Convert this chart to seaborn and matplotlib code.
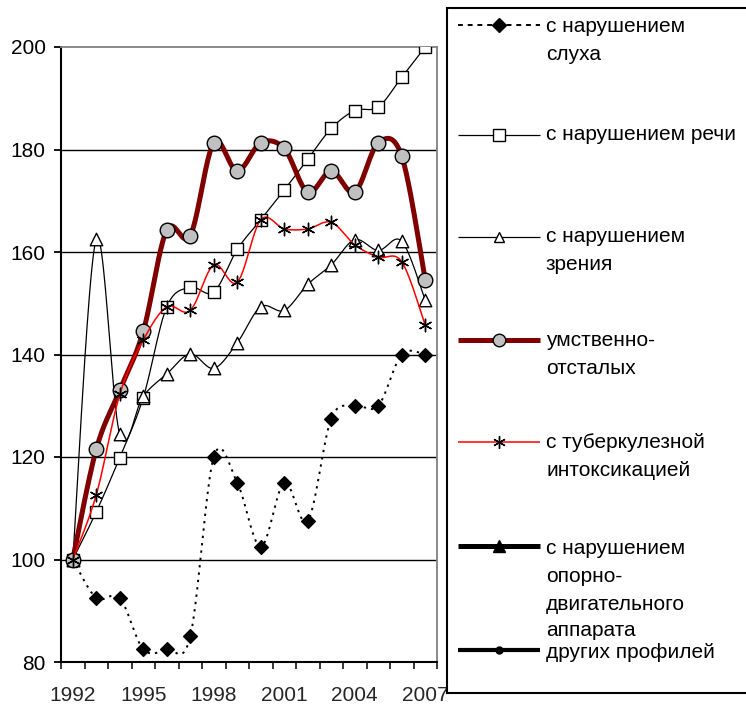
import numpy as np
import pandas as pd
import matplotlib
matplotlib.use('Agg')
import matplotlib.pyplot as plt
import seaborn as sns
from matplotlib.patches import Rectangle

# values (index, 1992 = 100)
years = list(range(1992, 2008))
hearing = [100, 92.5, 92.5, 82.5, 82.5, 85, 120, 115, 102.5, 115, 107.5, 127.5, 130, 130, 140, 140]
speech = [100, 109.3, 119.9, 131.6, 149.3, 153.1, 152.2, 160.5, 166.3, 172.1, 178.1, 184.1, 187.6, 188.3, 194.1, 200]
vision = [100, 162.5, 124.4, 131.9, 136.2, 140.1, 137.3, 142.3, 149.3, 148.6, 153.7, 157.5, 162.4, 160.3, 162.1, 150.6]
mental = [100, 121.5, 133, 144.5, 164.3, 163.2, 181.3, 175.8, 181.3, 180.2, 171.7, 175.8, 171.7, 181.3, 178.7, 154.6]
tuberc = [100, 112.6, 132.2, 142.8, 149.3, 148.6, 157.5, 154.1, 166.3, 164.5, 164.5, 165.8, 161.4, 159, 158.1, 145.7]

year_labels = ['1992', '1995', '1998', '2001', '2004', '2007']
legend_labels = [
    ['с нарушением', 'слуха'],
    ['с нарушением речи'],
    ['с нарушением', 'зрения'],
    ['умственно-', 'отсталых'],
    ['с туберкулезной', 'интоксикацией'],
    ['с нарушением', 'опорно-', 'двигательного', 'аппарата'],
    ['других профилей'],
]

sns.set_style('white')
plt.rcParams['font.family'] = ['Liberation Sans', 'DejaVu Sans']


def smooth(xs, ys, n=24):
    # Excel-like smoothed line: cubic Bezier through the points
    p = np.column_stack([xs, ys]).astype(float)
    ext = np.vstack([p[0], p, p[-1]])
    t = np.linspace(0, 1, n)[:, None]
    parts = []
    for i in range(len(p) - 1):
        p0, p1, p2, p3 = ext[i], ext[i + 1], ext[i + 2], ext[i + 3]
        c1 = p1 + (p2 - p0) / 6
        c2 = p2 - (p3 - p1) / 6
        seg = (1 - t) ** 3 * p1 + 3 * (1 - t) ** 2 * t * c1 + 3 * (1 - t) * t ** 2 * c2 + t ** 3 * p2
        parts.append(seg if i == 0 else seg[1:])
    s = np.vstack(parts)
    return pd.DataFrame({'x': s[:, 0], 'y': s[:, 1]})


fig = plt.figure(figsize=(7.46, 7.04), dpi=100)
ax = fig.add_axes([61 / 746, 1 - 662 / 704, (437 - 61) / 746, (662 - 47) / 704])

styles = [
    # values, line color, lw, linestyle, marker, marker size, face, edge
    (hearing, 'black', 1.4, (0, (1.2, 2.6)), 'D', 7, 'black', 'black'),
    (speech, 'black', 0.9, '-', 's', 9, 'white', 'black'),
    (vision, 'black', 0.9, '-', '^', 9, 'white', 'black'),
    (mental, '#800000', 3.6, '-', 'o', 10.5, '#C0C0C0', 'black'),
    (tuberc, '#FF0000', 1.1, '-', (6, 2, 0), 9, 'black', 'black'),
]

for k, (vals, col, lw, ls, mk, ms, fc, ec) in enumerate(styles):
    curve = smooth(years, vals)
    sns.lineplot(data=curve, x='x', y='y', ax=ax, color=col, linewidth=lw,
                 linestyle=ls, sort=False, estimator=None, zorder=3 + k)
    pts = pd.DataFrame({'x': years, 'y': vals})
    sns.scatterplot(data=pts, x='x', y='y', ax=ax, marker=mk, s=ms ** 2,
                    color=fc, edgecolor=ec, linewidth=1.0, zorder=3.5 + k)

ax.set_xlim(1991.5, 2007.5)
ax.set_ylim(80, 200)
ax.set_xlabel('')
ax.set_ylabel('')

ax.set_yticks(np.arange(80, 201, 20))
ax.tick_params(axis='y', direction='out', length=5, width=1.3, pad=6,
               labelsize=15, left=True, colors='black')
ax.set_xticks(np.arange(1991.5, 2008, 1))
ax.set_xticklabels([])
ax.set_xticks([1992, 1995, 1998, 2001, 2004, 2007], minor=True)
ax.set_xticklabels(year_labels, minor=True)
ax.tick_params(axis='x', which='major', direction='out', length=5, width=1.3, bottom=True)
ax.tick_params(axis='x', which='minor', length=0, pad=17, labelsize=15)

ax.grid(True, axis='y', color='black', linewidth=1.0)
ax.grid(False, axis='x')
for gl in ax.get_ygridlines()[-1:]:
    gl.set_visible(False)
ax.set_axisbelow(True)

for side in ['left', 'bottom']:
    ax.spines[side].set_color('black')
    ax.spines[side].set_linewidth(1.5)
for side in ['top', 'right']:
    ax.spines[side].set_color('#808080')
    ax.spines[side].set_linewidth(1.3)

# legend drawn in pixel coordinates
lg = fig.add_axes([0, 0, 1, 1], zorder=10)
lg.set_xlim(0, 746)
lg.set_ylim(704, 0)
lg.axis('off')
lg.patch.set_alpha(0)
lg.add_patch(Rectangle((447, 8), 500, 685, facecolor='white', edgecolor='black', linewidth=1.5))

leg_styles = [
    ('black', 1.4, (0, (2.5, 2.5)), 'D', 7, 'black'),
    ('black', 0.9, '-', 's', 9, 'white'),
    ('black', 0.9, '-', '^', 7, 'white'),
    ('#800000', 3.6, '-', 'o', 9, '#C0C0C0'),
    ('#FF0000', 1.1, '-', (6, 2, 0), 9, 'black'),
    ('black', 3.6, '-', '^', 9, 'black'),
    ('black', 3.0, '-', 'o', 5, 'black'),
]
line_y = [25, 135, 237, 340, 442, 546, 650]
text_y = [[27, 55], [135], [237, 265], [340, 368], [442, 470], [548, 576, 604, 631], [653]]

for (col, lw, ls, mk, ms, fc), ly, lines, ty in zip(leg_styles, line_y, legend_labels, text_y):
    lg.plot([458, 540], [ly, ly], color=col, linewidth=lw, linestyle=ls, solid_capstyle='butt')
    lg.plot([499], [ly], marker=mk, markersize=ms, markerfacecolor=fc,
            markeredgecolor='black', markeredgewidth=1.0, color='black')
    for txt, yy in zip(lines, ty):
        lg.text(546, yy, txt, fontsize=15, va='center', ha='left', color='black')

fig.savefig('out.png', dpi=100)
